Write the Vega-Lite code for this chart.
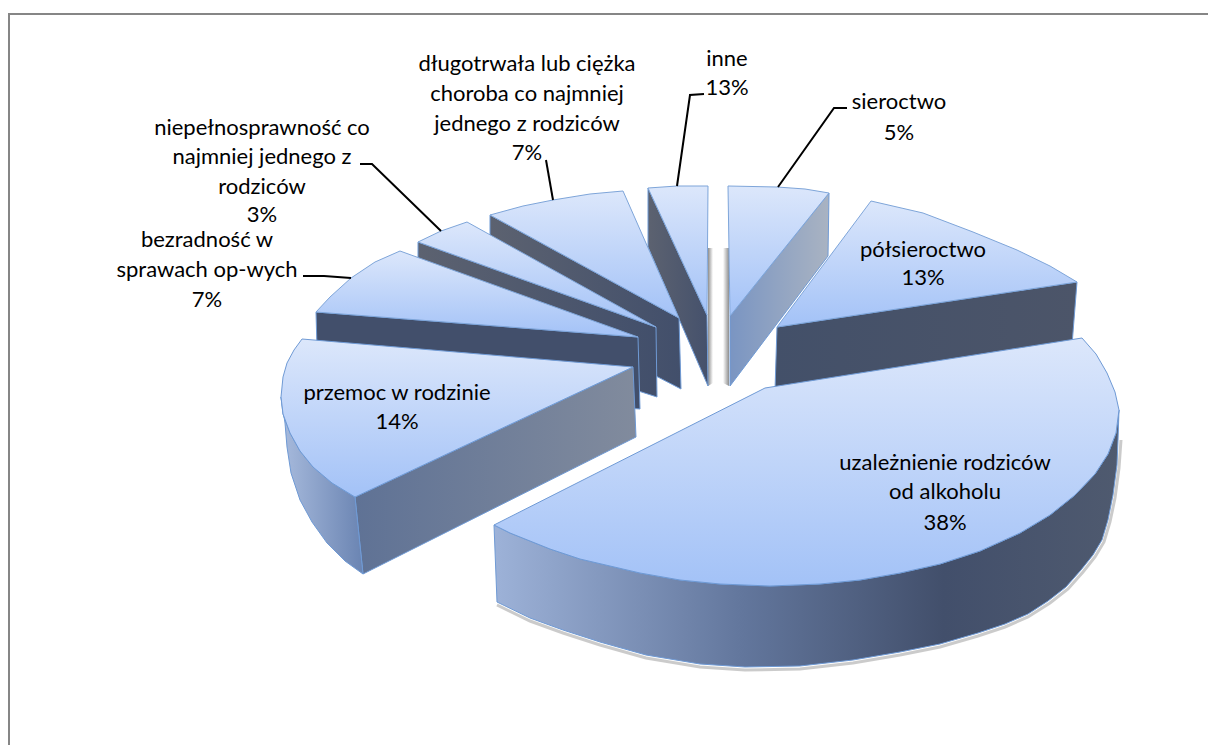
{
"$schema":"https://vega.github.io/schema/vega-lite/v6.json",
"width":1208,"height":745,"padding":0,"autosize":"none",
"background":"white","view":{"stroke":null},
"config":{"view":{"stroke":null}},
"datasets":{
"frame":[{"x":9,"y":745},{"x":9,"y":14},{"x":1208,"y":14}],
"shadowA":[{"x":708,"y":248},{"x":713,"y":248},{"x":713,"y":383},{"x":708,"y":386}],
"shadowB":[{"x":723,"y":248},{"x":729,"y":248},{"x":729,"y":386},{"x":723,"y":383}],
"inneSide":[{"x":648,"y":188},{"x":707,"y":315},{"x":708,"y":386},{"x":648,"y":247},{"x":648,"y":188}],
"inneTop":[{"x":707,"y":315},{"x":648,"y":188},{"x":677,"y":186},{"x":708,"y":186},{"x":707,"y":315}],
"dlugoSide":[{"x":490,"y":215},{"x":679,"y":318},{"x":681,"y":389},{"x":490,"y":290},{"x":490,"y":215}],
"dlugoTop":[{"x":679,"y":318},{"x":490,"y":215},{"x":523,"y":206},{"x":553,"y":200},{"x":590,"y":194},{"x":623,"y":191},{"x":679,"y":318}],
"niepSide":[{"x":418,"y":242},{"x":656,"y":327},{"x":657,"y":397},{"x":418,"y":320},{"x":418,"y":242}],
"niepTop":[{"x":656,"y":327},{"x":418,"y":242},{"x":441,"y":231},{"x":467,"y":222},{"x":656,"y":327}],
"bezSide":[{"x":316,"y":312},{"x":638,"y":337},{"x":640,"y":409},{"x":318,"y":385},{"x":316,"y":312}],
"bezTop":[{"x":638,"y":337},{"x":316,"y":312},{"x":330,"y":297},{"x":351,"y":278},{"x":375,"y":262},{"x":400,"y":251},{"x":638,"y":337}],
"przFront":[{"x":355,"y":497},{"x":633,"y":367},{"x":636,"y":437},{"x":363,"y":574},{"x":355,"y":497}],
"przOuter":[{"x":281,"y":397},{"x":283,"y":414},{"x":290,"y":433},{"x":300,"y":451},{"x":313,"y":467},{"x":332,"y":483},{"x":355,"y":497},{"x":363,"y":574},{"x":345,"y":561},{"x":327,"y":543},{"x":312,"y":522},{"x":300,"y":500},{"x":291,"y":473},{"x":287,"y":447},{"x":285,"y":423},{"x":281,"y":397}],
"przTop":[{"x":633,"y":367},{"x":302,"y":339},{"x":294,"y":350},{"x":287,"y":363},{"x":283,"y":377},{"x":281,"y":397},{"x":283,"y":414},{"x":290,"y":433},{"x":300,"y":451},{"x":313,"y":467},{"x":332,"y":483},{"x":355,"y":497},{"x":633,"y":367}],
"sierSide":[{"x":730,"y":316},{"x":829,"y":193},{"x":828,"y":256},{"x":730,"y":386},{"x":730,"y":316}],
"sierTop":[{"x":730,"y":316},{"x":728,"y":186},{"x":777,"y":187},{"x":805,"y":189},{"x":829,"y":193},{"x":730,"y":316}],
"polSide":[{"x":777,"y":327},{"x":1077,"y":282},{"x":1072,"y":345},{"x":775,"y":390},{"x":777,"y":327}],
"polTop":[{"x":777,"y":327},{"x":871,"y":201},{"x":923,"y":213},{"x":973,"y":232},{"x":1017,"y":250},{"x":1050,"y":266},{"x":1077,"y":282},{"x":777,"y":327}],
"mainShade":[{"x":1121,"y":440},{"x":1119,"y":468},{"x":1115,"y":498},{"x":1110,"y":522},{"x":1104,"y":542},{"x":1095,"y":557},{"x":1083,"y":572},{"x":1068,"y":589},{"x":1050,"y":603},{"x":1028,"y":617},{"x":1005,"y":627},{"x":978,"y":636},{"x":940,"y":647},{"x":900,"y":655},{"x":853,"y":663},{"x":800,"y":669},{"x":745,"y":670},{"x":700,"y":667},{"x":646,"y":658},{"x":600,"y":645},{"x":563,"y":633},{"x":530,"y":621},{"x":497,"y":605}],
"mainSide":[{"x":494,"y":525},{"x":510,"y":533},{"x":530,"y":541},{"x":550,"y":549},{"x":580,"y":559},{"x":610,"y":566},{"x":640,"y":573},{"x":680,"y":580},{"x":720,"y":584},{"x":770,"y":586},{"x":820,"y":584},{"x":860,"y":580},{"x":900,"y":573},{"x":940,"y":564},{"x":980,"y":551},{"x":1020,"y":533},{"x":1050,"y":515},{"x":1075,"y":495},{"x":1095,"y":474},{"x":1108,"y":454},{"x":1116,"y":433},{"x":1119,"y":410},{"x":1118,"y":440},{"x":1117,"y":465},{"x":1113,"y":495},{"x":1108,"y":520},{"x":1102,"y":540},{"x":1093,"y":555},{"x":1081,"y":570},{"x":1066,"y":587},{"x":1048,"y":601},{"x":1028,"y":614},{"x":1005,"y":624},{"x":978,"y":633},{"x":940,"y":644},{"x":900,"y":652},{"x":853,"y":660},{"x":800,"y":666},{"x":745,"y":667},{"x":700,"y":664},{"x":646,"y":655},{"x":600,"y":642},{"x":563,"y":630},{"x":530,"y":618},{"x":497,"y":602},{"x":494,"y":525}],
"mainTop":[{"x":765,"y":388},{"x":1082,"y":338},{"x":1096,"y":354},{"x":1107,"y":373},{"x":1115,"y":392},{"x":1119,"y":410},{"x":1116,"y":433},{"x":1108,"y":454},{"x":1095,"y":474},{"x":1075,"y":495},{"x":1050,"y":515},{"x":1020,"y":533},{"x":980,"y":551},{"x":940,"y":564},{"x":900,"y":573},{"x":860,"y":580},{"x":820,"y":584},{"x":770,"y":586},{"x":720,"y":584},{"x":680,"y":580},{"x":640,"y":573},{"x":610,"y":566},{"x":580,"y":559},{"x":550,"y":549},{"x":530,"y":541},{"x":510,"y":533},{"x":494,"y":525},{"x":765,"y":388}],
"leadSier":[{"x":847,"y":108},{"x":834,"y":108},{"x":778,"y":187}],
"leadInne":[{"x":704,"y":94},{"x":690,"y":95},{"x":677,"y":186}],
"leadDlugo":[{"x":546,"y":160},{"x":553,"y":200}],
"leadNiep":[{"x":360,"y":164},{"x":372,"y":164},{"x":441,"y":231}],
"leadBez":[{"x":303,"y":276},{"x":324,"y":276},{"x":351,"y":278}],
"labels":[
{"t":"sieroctwo","x":899,"y":102},{"t":"5%","x":899,"y":133},
{"t":"inne","x":727,"y":59},{"t":"13%","x":727,"y":88},
{"t":"długotrwała lub ciężka","x":527,"y":64},{"t":"choroba co najmniej","x":527,"y":94},{"t":"jednego z rodziców","x":527,"y":124},{"t":"7%","x":527,"y":153},
{"t":"niepełnosprawność co","x":262,"y":128},{"t":"najmniej jednego z","x":262,"y":157},{"t":"rodziców","x":262,"y":187},{"t":"3%","x":262,"y":215},
{"t":"bezradność w","x":207,"y":240},{"t":"sprawach op-wych","x":207,"y":270},{"t":"7%","x":207,"y":300},
{"t":"półsieroctwo","x":923,"y":250},{"t":"13%","x":923,"y":278},
{"t":"przemoc w rodzinie","x":397,"y":393},{"t":"14%","x":397,"y":422},
{"t":"uzależnienie rodziców","x":945,"y":463},{"t":"od alkoholu","x":945,"y":492},{"t":"38%","x":945,"y":523}
]
},
"encoding":{
"x":{"field":"x","type":"quantitative","scale":{"domain":[0,1208],"nice":false,"zero":false},"axis":null},
"y":{"field":"y","type":"quantitative","scale":{"domain":[745,0],"nice":false,"zero":false},"axis":null}
},
"layer":[
{"data":{"name":"frame"},"mark":{"type":"line","stroke":"#868686","strokeWidth":2},"encoding":{"order":{"value":null}}},
{"data":{"name":"shadowA"},"mark":{"type":"line","stroke":null,"fill":{"x1":0,"x2":1,"y1":0,"y2":0,"gradient":"linear","stops":[{"offset":0,"color":"#8e8e8e"},{"offset":1,"color":"#ffffff"}]}},"encoding":{"order":{"value":null}}},
{"data":{"name":"shadowB"},"mark":{"type":"line","stroke":null,"fill":{"x1":0,"x2":1,"y1":0,"y2":0,"gradient":"linear","stops":[{"offset":0,"color":"#ffffff"},{"offset":1,"color":"#8e8e8e"}]}},"encoding":{"order":{"value":null}}},
{"data":{"name":"inneSide"},"mark":{"type":"line","stroke":"#6f9ad5","strokeWidth":1,"fill":{"x1":0,"x2":1,"y1":0,"y2":0,"gradient":"linear","stops":[{"offset":0,"color":"#5c6270"},{"offset":1,"color":"#45516c"}]}},"encoding":{"order":{"value":null}}},
{"data":{"name":"inneTop"},"mark":{"type":"line","stroke":"#7ea5d9","strokeWidth":1,"fill":{"x1":0,"x2":0,"y1":0,"y2":1,"gradient":"linear","stops":[{"offset":0,"color":"#dce7fb"},{"offset":1,"color":"#a3c2f7"}]}},"encoding":{"order":{"value":null}}},
{"data":{"name":"dlugoSide"},"mark":{"type":"line","stroke":"#6f9ad5","strokeWidth":1,"fill":{"x1":0,"x2":1,"y1":0,"y2":0,"gradient":"linear","stops":[{"offset":0,"color":"#5c6270"},{"offset":1,"color":"#424f6b"}]}},"encoding":{"order":{"value":null}}},
{"data":{"name":"dlugoTop"},"mark":{"type":"line","stroke":"#7ea5d9","strokeWidth":1,"fill":{"x1":0,"x2":0,"y1":0,"y2":1,"gradient":"linear","stops":[{"offset":0,"color":"#dce7fb"},{"offset":1,"color":"#a3c2f7"}]}},"encoding":{"order":{"value":null}}},
{"data":{"name":"niepSide"},"mark":{"type":"line","stroke":"#6f9ad5","strokeWidth":1,"fill":{"x1":0,"x2":1,"y1":0,"y2":0,"gradient":"linear","stops":[{"offset":0,"color":"#5c6270"},{"offset":1,"color":"#424f6b"}]}},"encoding":{"order":{"value":null}}},
{"data":{"name":"niepTop"},"mark":{"type":"line","stroke":"#7ea5d9","strokeWidth":1,"fill":{"x1":0,"x2":0,"y1":0,"y2":1,"gradient":"linear","stops":[{"offset":0,"color":"#dce7fb"},{"offset":1,"color":"#a3c2f7"}]}},"encoding":{"order":{"value":null}}},
{"data":{"name":"bezSide"},"mark":{"type":"line","stroke":"#6f9ad5","strokeWidth":1,"fill":"#424f6b"},"encoding":{"order":{"value":null}}},
{"data":{"name":"bezTop"},"mark":{"type":"line","stroke":"#7ea5d9","strokeWidth":1,"fill":{"x1":0,"x2":0,"y1":0,"y2":1,"gradient":"linear","stops":[{"offset":0,"color":"#dce7fb"},{"offset":1,"color":"#a3c2f7"}]}},"encoding":{"order":{"value":null}}},
{"data":{"name":"przFront"},"mark":{"type":"line","stroke":"#6f9ad5","strokeWidth":1,"fill":{"x1":0,"x2":1,"y1":0,"y2":0,"gradient":"linear","stops":[{"offset":0,"color":"#5f7295"},{"offset":1,"color":"#818b9d"}]}},"encoding":{"order":{"value":null}}},
{"data":{"name":"przOuter"},"mark":{"type":"line","stroke":"#6f9ad5","strokeWidth":1,"fill":{"x1":0,"x2":1,"y1":0,"y2":0,"gradient":"linear","stops":[{"offset":0,"color":"#a8bbdd"},{"offset":1,"color":"#6a84b2"}]}},"encoding":{"order":{"value":null}}},
{"data":{"name":"przTop"},"mark":{"type":"line","stroke":"#6f9ad5","strokeWidth":1,"fill":{"x1":0,"x2":0,"y1":0,"y2":1,"gradient":"linear","stops":[{"offset":0,"color":"#dce7fb"},{"offset":1,"color":"#a3c2f7"}]}},"encoding":{"order":{"value":null}}},
{"data":{"name":"sierSide"},"mark":{"type":"line","stroke":"#6f9ad5","strokeWidth":1,"fill":{"x1":0,"x2":1,"y1":0,"y2":0,"gradient":"linear","stops":[{"offset":0,"color":"#7a95c2"},{"offset":1,"color":"#a9b3c2"}]}},"encoding":{"order":{"value":null}}},
{"data":{"name":"sierTop"},"mark":{"type":"line","stroke":"#7ea5d9","strokeWidth":1,"fill":{"x1":0,"x2":0,"y1":0,"y2":1,"gradient":"linear","stops":[{"offset":0,"color":"#dce7fb"},{"offset":1,"color":"#a3c2f7"}]}},"encoding":{"order":{"value":null}}},
{"data":{"name":"polSide"},"mark":{"type":"line","stroke":"#6f9ad5","strokeWidth":1,"fill":{"x1":0,"x2":1,"y1":0,"y2":0,"gradient":"linear","stops":[{"offset":0,"color":"#435069"},{"offset":1,"color":"#4c5569"}]}},"encoding":{"order":{"value":null}}},
{"data":{"name":"polTop"},"mark":{"type":"line","stroke":"#7ea5d9","strokeWidth":1,"fill":{"x1":0,"x2":0,"y1":0,"y2":1,"gradient":"linear","stops":[{"offset":0,"color":"#dce7fb"},{"offset":1,"color":"#a3c2f7"}]}},"encoding":{"order":{"value":null}}},
{"data":{"name":"mainShade"},"mark":{"type":"line","stroke":"#b5b5b5","strokeWidth":3,"opacity":0.7},"encoding":{"order":{"value":null}}},
{"data":{"name":"mainSide"},"mark":{"type":"line","stroke":"#6f9ad5","strokeWidth":1,"fill":{"x1":0,"x2":1,"y1":0,"y2":0,"gradient":"linear","stops":[{"offset":0,"color":"#9db2d8"},{"offset":0.4,"color":"#62769c"},{"offset":0.72,"color":"#424f6b"},{"offset":1,"color":"#4f5a6f"}]}},"encoding":{"order":{"value":null}}},
{"data":{"name":"mainTop"},"mark":{"type":"line","stroke":"#6f9ad5","strokeWidth":1,"fill":{"x1":0,"x2":0,"y1":0,"y2":1,"gradient":"linear","stops":[{"offset":0,"color":"#dce7fb"},{"offset":1,"color":"#a3c2f7"}]}},"encoding":{"order":{"value":null}}},
{"data":{"name":"leadSier"},"mark":{"type":"line","stroke":"#000000","strokeWidth":2},"encoding":{"order":{"value":null}}},
{"data":{"name":"leadInne"},"mark":{"type":"line","stroke":"#000000","strokeWidth":2},"encoding":{"order":{"value":null}}},
{"data":{"name":"leadDlugo"},"mark":{"type":"line","stroke":"#000000","strokeWidth":2},"encoding":{"order":{"value":null}}},
{"data":{"name":"leadNiep"},"mark":{"type":"line","stroke":"#000000","strokeWidth":2},"encoding":{"order":{"value":null}}},
{"data":{"name":"leadBez"},"mark":{"type":"line","stroke":"#000000","strokeWidth":2},"encoding":{"order":{"value":null}}},
{"data":{"name":"labels"},"mark":{"type":"text","font":"Lato","fontSize":22,"color":"#000000","align":"center","baseline":"middle"},"encoding":{"text":{"field":"t","type":"nominal"}}}
]
}
